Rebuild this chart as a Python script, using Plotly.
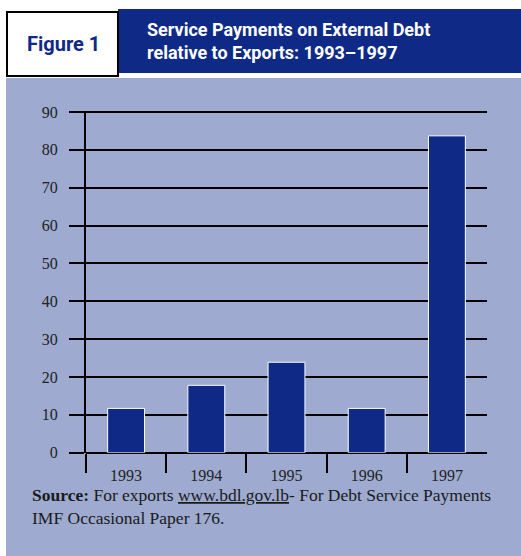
import plotly.graph_objects as go

# Debt service payments as a share of exports (%)
years = ["1993", "1994", "1995", "1996", "1997"]
ratio = [11.7, 17.8, 23.9, 11.7, 83.7]
y_ticks = [0, 10, 20, 30, 40, 50, 60, 70, 80, 90]

W, H = 521, 556
PANEL = "#9eaacf"
NAVY = "#0e2a86"
SERIF = "Liberation Serif, DejaVu Serif, serif"
SANS = "Roboto, Liberation Sans, sans-serif"


def px(x):
    return x / W


def py(y):
    return 1 - y / H


fig = go.Figure(
    go.Bar(
        x=years,
        y=ratio,
        width=0.46,
        marker=dict(color=NAVY, line=dict(color="white", width=1)),
        hoverinfo="x+y",
    )
)

shapes = [
    # light blue panel behind the chart and source note
    dict(type="rect", xref="paper", yref="paper", x0=px(6), x1=px(521), y0=py(556), y1=py(78),
         fillcolor=PANEL, line=dict(width=0), layer="below"),
    # title band
    dict(type="rect", xref="paper", yref="paper", x0=px(118), x1=px(521), y0=py(73), y1=py(9),
         fillcolor=NAVY, line=dict(width=0), layer="below"),
    # "Figure 1" box
    dict(type="rect", xref="paper", yref="paper", x0=px(7), x1=px(118), y0=py(76), y1=py(12),
         fillcolor="white", line=dict(color="black", width=2), layer="below"),
]

source_note = (
    "<b>Source:</b> For exports <u>www.bdl.gov.lb</u>- For Debt Service Payments"
    "<br>IMF Occasional Paper 176."
)

annotations = [
    dict(text="<b>Figure 1</b>", x=px(63), y=py(44), xref="paper", yref="paper",
         xanchor="center", yanchor="middle", showarrow=False,
         font=dict(family=SANS, size=20, color=NAVY)),
    dict(text="<b>Service Payments on External Debt</b>", x=px(145), y=py(29), xref="paper", yref="paper",
         xanchor="left", yanchor="middle", showarrow=False,
         font=dict(family=SANS, size=18, color="white")),
    dict(text="<b>relative to Exports: 1993\u20131997</b>", x=px(145), y=py(53), xref="paper", yref="paper",
         xanchor="left", yanchor="middle", showarrow=False,
         font=dict(family=SANS, size=18, color="white")),
    dict(text=source_note, x=px(30), y=py(506), xref="paper", yref="paper",
         xanchor="left", yanchor="middle", align="left", showarrow=False,
         font=dict(family=SERIF, size=17.5, color="#1a1a1a")),
]

# a hair of headroom so the 90 gridline is kept at the top edge
y_top = 90.3
unit_px = (452.7 - 112) / 90

fig.update_layout(
    width=W,
    height=H,
    margin=dict(l=0, r=0, t=0, b=0, autoexpand=False),
    paper_bgcolor="white",
    plot_bgcolor="rgba(0,0,0,0)",
    showlegend=False,
    shapes=shapes,
    annotations=annotations,
    xaxis=dict(
        domain=[px(86), px(487)],
        type="category",
        range=[-0.5, 4.5],
        automargin=False,
        tickson="boundaries",
        ticks="outside",
        ticklen=19,
        tickwidth=2,
        tickcolor="black",
        showgrid=False,
        showline=False,
        zeroline=False,
        ticklabelstandoff=11,
        tickfont=dict(family=SERIF, size=16, color="#222222"),
    ),
    yaxis=dict(
        domain=[py(452.7), py(112 - (y_top - 90) * unit_px)],
        range=[0, y_top],
        automargin=False,
        tickvals=y_ticks,
        ticks="outside",
        ticklen=15,
        tickwidth=2,
        tickcolor="black",
        showgrid=True,
        gridcolor="black",
        gridwidth=2,
        zeroline=True,
        zerolinecolor="black",
        zerolinewidth=2,
        showline=True,
        linecolor="black",
        linewidth=2,
        ticklabelstandoff=8,
        tickfont=dict(family=SERIF, size=16, color="#222222"),
    ),
)

fig.write_html("out.html")
